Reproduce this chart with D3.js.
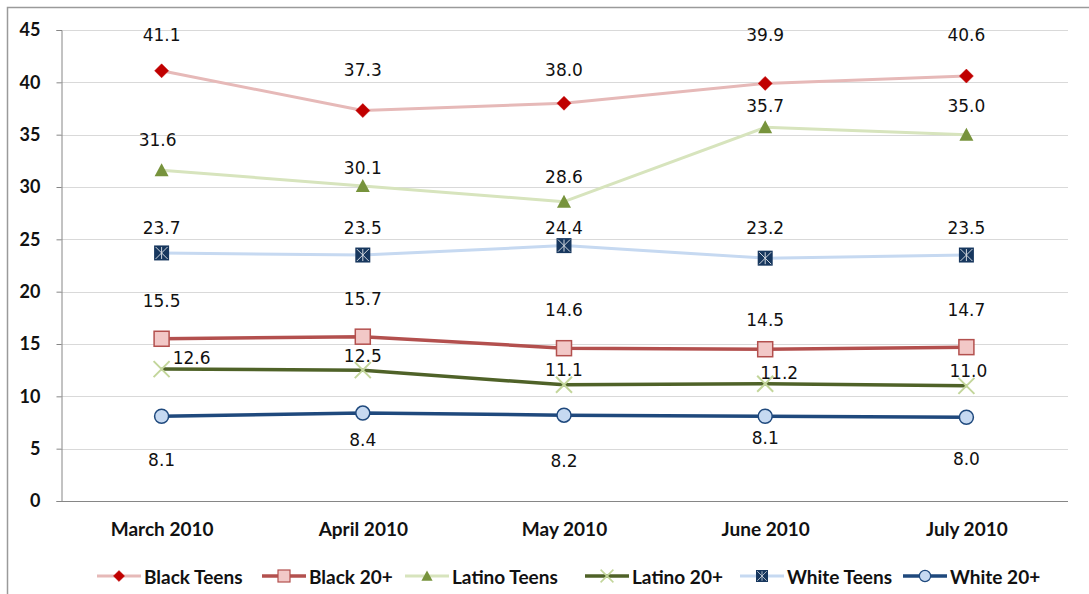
<!DOCTYPE html>
<html>
<head>
<meta charset="utf-8">
<script src="https://cdn.jsdelivr.net/npm/d3@7"></script>
<style>
  html, body { margin: 0; padding: 0; background: #fff; }
  svg { display: block; }
</style>
</head>
<body>
<svg id="chart" width="1089" height="594"></svg>
<script>
// Unemployment rates by group, March–July 2010
const months = ["March 2010", "April 2010", "May 2010", "June 2010", "July 2010"];
const blackTeens  = [41.1, 37.3, 38.0, 39.9, 40.6];
const black20     = [15.5, 15.7, 14.6, 14.5, 14.7];
const latinoTeens = [31.6, 30.1, 28.6, 35.7, 35.0];
const latino20    = [12.6, 12.5, 11.1, 11.2, 11.0];
const whiteTeens  = [23.7, 23.5, 24.4, 23.2, 23.5];
const white20     = [8.1, 8.4, 8.2, 8.1, 8.0];
const yTicks = [0, 5, 10, 15, 20, 25, 30, 35, 40, 45];

// Series styling and label placement (pixel offsets from each point)
const series = [
  { name: "Black Teens", values: blackTeens, line: "#e6b9b8", width: 3, marker: "diamond",
    fill: "#c00000", stroke: "#c00000", dy: [-36, -41, -33, -48, -41], dx: [0, 0, 0, 0, 0] },
  { name: "Black 20+", values: black20, line: "#b3504e", width: 3.5, marker: "square",
    fill: "#f2c8c7", stroke: "#b3504e", dy: [-38, -38, -38, -29, -37], dx: [0, 0, 0, 0, 0] },
  { name: "Latino Teens", values: latinoTeens, line: "#d7e4bd", width: 3, marker: "triangle",
    fill: "#77933c", stroke: "#77933c", dy: [-30, -18, -25, -21, -29], dx: [-4, 0, 0, 0, 0] },
  { name: "Latino 20+", values: latino20, line: "#4f6228", width: 3.5, marker: "x",
    fill: "none", stroke: "#c3d69b", dy: [-11, -14, -15, -11, -15], dx: [30, 0, 0, 14, 2] },
  { name: "White Teens", values: whiteTeens, line: "#c6d9f1", width: 3, marker: "star",
    fill: "#17375e", stroke: "#ffffff", dy: [-25, -27, -18, -30, -27], dx: [0, 0, 0, 0, 0] },
  { name: "White 20+", values: white20, line: "#1f497d", width: 3.5, marker: "circle",
    fill: "#c6d9f1", stroke: "#1f497d", dy: [44, 27, 46, 22, 42], dx: [0, 0, 0, 0, 0] }
];

const svg = d3.select("#chart");
const plot = { left: 61, right: 1067, top: 30, bottom: 501 };

const x = d3.scalePoint().domain(months).range([plot.left, plot.right]).padding(0.5);
const y = d3.scaleLinear().domain([0, 45]).range([plot.bottom, plot.top]);

// outer frame
svg.append("rect").attr("x", 7.5).attr("y", 7.5).attr("width", 1100).attr("height", 600)
  .attr("fill", "none").attr("stroke", "#9a9a9a").attr("stroke-width", 1.5);

// gridlines
svg.append("g").selectAll("line").data(yTicks.filter(d => d > 0)).join("line")
  .attr("x1", plot.left).attr("x2", plot.right + 1)
  .attr("y1", d => Math.round(y(d)) + 0.5).attr("y2", d => Math.round(y(d)) + 0.5)
  .attr("stroke", "#d9d9d9").attr("stroke-width", 1);

const labelFont = "Lato, 'Open Sans', sans-serif";

// y axis
const yAxis = svg.append("g").attr("transform", `translate(${plot.left + 0.5},0)`)
  .call(d3.axisLeft(y).tickValues(yTicks).tickSize(5).tickPadding(16));
yAxis.select(".domain").attr("stroke", "#868686");
yAxis.selectAll(".tick line").attr("stroke", "#868686");
yAxis.selectAll(".tick text").attr("font-family", labelFont)
  .attr("font-weight", "bold").attr("font-size", 18).attr("fill", "#111");

// x axis
const xAxis = svg.append("g").attr("transform", `translate(0,${plot.bottom + 0.5})`)
  .call(d3.axisBottom(x).tickSize(0).tickPadding(21));
xAxis.select(".domain").attr("stroke", "#868686").attr("d", `M${plot.left},0H${plot.right + 1}`);
xAxis.selectAll(".tick text").attr("font-family", labelFont)
  .attr("font-weight", "bold").attr("font-size", 19).attr("fill", "#111");

const line = d3.line().x((d, i) => x(months[i])).y(d => y(d));

function drawMarker(g, type, s) {
  const sz = 7;
  if (type === "diamond") {
    g.append("path").attr("d", `M0,${-sz}L${sz},0L0,${sz}L${-sz},0Z`)
      .attr("fill", s.fill).attr("stroke", s.stroke).attr("stroke-width", 0.5);
  } else if (type === "square") {
    g.append("rect").attr("x", -7.5).attr("y", -7.5).attr("width", 15).attr("height", 15)
      .attr("fill", s.fill).attr("stroke", s.stroke).attr("stroke-width", 1.5);
  } else if (type === "triangle") {
    g.append("path").attr("d", `M0,-7L7,6L-7,6Z`).attr("fill", s.fill);
  } else if (type === "x") {
    g.append("path").attr("d", `M-8,-8L8,8M8,-8L-8,8`)
      .attr("stroke", s.stroke).attr("stroke-width", 2).attr("fill", "none");
  } else if (type === "star") {
    g.append("rect").attr("x", -7.5).attr("y", -7.5).attr("width", 15).attr("height", 15)
      .attr("fill", s.fill);
    g.append("path").attr("d", `M0,-6V6M-6,-6L6,6M6,-6L-6,6`)
      .attr("stroke", s.stroke).attr("stroke-width", 1).attr("opacity", 0.8);
  } else if (type === "circle") {
    g.append("circle").attr("r", 7).attr("fill", s.fill)
      .attr("stroke", s.stroke).attr("stroke-width", 1.5);
  }
}

series.forEach(s => {
  const g = svg.append("g");
  g.append("path").datum(s.values).attr("d", line)
    .attr("fill", "none").attr("stroke", s.line).attr("stroke-width", s.width)
    .attr("stroke-linejoin", "round");
  s.values.forEach((v, i) => {
    const m = g.append("g").attr("transform", `translate(${x(months[i])},${y(v)})`);
    drawMarker(m, s.marker, s);
  });
});

// value labels
series.forEach(s => {
  svg.append("g").selectAll("text").data(s.values).join("text")
    .attr("x", (d, i) => x(months[i]) + s.dx[i])
    .attr("y", (d, i) => y(d) + s.dy[i])
    .attr("text-anchor", "middle").attr("dominant-baseline", "central")
    .attr("font-family", "'DejaVu Sans', Verdana, sans-serif").attr("font-size", 17)
    .attr("fill", "#111")
    .text(d => d.toFixed(1));
});

// legend
const legendX = [97, 262, 405, 585, 740, 903];
const legendY = 576;
series.forEach((s, i) => {
  const g = svg.append("g").attr("transform", `translate(${legendX[i]},${legendY})`);
  g.append("line").attr("x1", 0).attr("x2", 44).attr("y1", 0).attr("y2", 0)
    .attr("stroke", s.line).attr("stroke-width", s.width);
  const m = g.append("g").attr("transform", "translate(22,0) scale(0.8)");
  drawMarker(m, s.marker, s);
  g.append("text").attr("x", 47).attr("y", 0).attr("dominant-baseline", "central")
    .attr("font-family", labelFont).attr("font-weight", "bold")
    .attr("font-size", 19).attr("fill", "#111").text(s.name);
});
</script>
</body>
</html>
